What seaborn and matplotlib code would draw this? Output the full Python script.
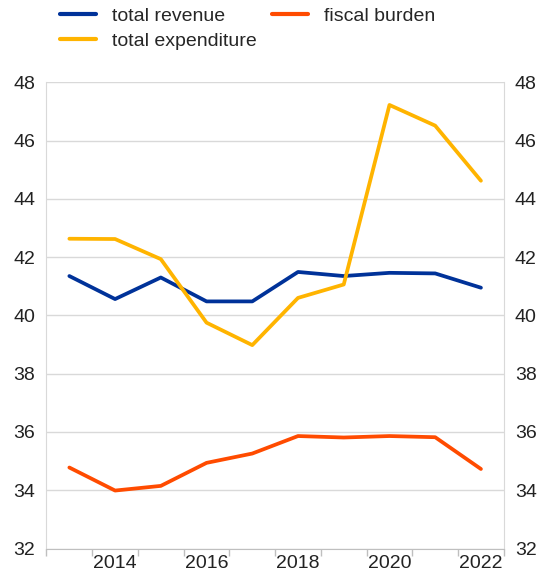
import pandas as pd
import matplotlib.pyplot as plt
import seaborn as sns

# Datos
years = list(range(2013, 2023))
total_revenue = [41.35, 40.56, 41.30, 40.48, 40.48, 41.49, 41.35, 41.46, 41.44, 40.95]
total_expenditure = [42.63, 42.62, 41.93, 39.75, 38.98, 40.60, 41.06, 47.22, 46.51, 44.62]
fiscal_burden = [34.78, 33.99, 34.15, 34.94, 35.26, 35.86, 35.81, 35.86, 35.82, 34.73]

series = ["total revenue", "total expenditure", "fiscal burden"]
colors = ["#003299", "#FFB400", "#FF4B00"]

df = pd.DataFrame({
    "year": years,
    "total revenue": total_revenue,
    "total expenditure": total_expenditure,
    "fiscal burden": fiscal_burden,
})
long = df.melt(id_vars="year", var_name="series", value_name="value")

sns.set_style("white")
plt.rcParams["font.family"] = ["Liberation Sans", "DejaVu Sans"]

fig = plt.figure(figsize=(5.47, 5.75), dpi=100)
ax = fig.add_axes([0.085, 0.046, 0.836, 0.811])

sns.lineplot(data=long, x="year", y="value", hue="series", hue_order=series,
             palette=colors, linewidth=2.7, ax=ax, legend=False)

ax.set_xlim(2012.5, 2022.5)
ax.set_ylim(32, 48)
ax.set_yticks(range(32, 49, 2))
ax.set_xticks(range(2014, 2023, 2))
ax.set_xticks([y + 0.5 for y in range(2012, 2023)], minor=True)
ax.grid(axis="y", color="#d9d9d9", linewidth=1)
ax.set_axisbelow(True)
ax.set_xlabel("")
ax.set_ylabel("")

for s in ["left", "right", "bottom"]:
    ax.spines[s].set_color("#d9d9d9")
ax.spines["top"].set_visible(False)
ax.spines["bottom"].set_color("#bfbfbf")

ax.tick_params(axis="y", length=0, labelsize=14, labelcolor="#222222",
               labelleft=True, labelright=True, pad=8)
ax.tick_params(axis="x", which="major", bottom=False, length=0, labelsize=14,
               labelcolor="#222222", pad=5)
ax.tick_params(axis="x", which="minor", bottom=True, length=5, color="#bfbfbf", width=1)

handles = [plt.Line2D([], [], color=c, linewidth=3) for c in colors]
fig.legend(handles, series, loc="upper left", bbox_to_anchor=(0.078, 1.018),
           ncol=2, frameon=False, fontsize=14, handlelength=1.85,
           handletextpad=0.8, columnspacing=0.8, labelspacing=0.4)

plt.savefig("out.png", dpi=100)
